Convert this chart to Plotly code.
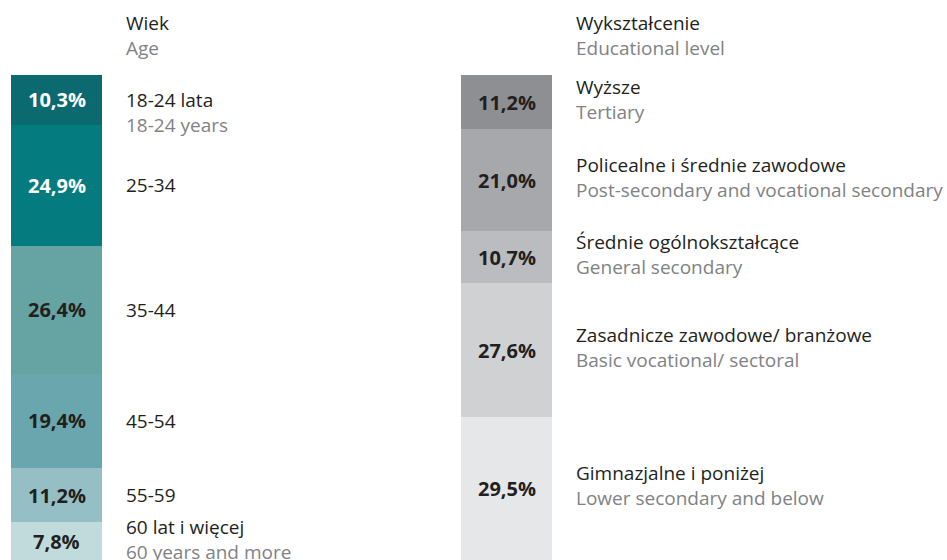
import plotly.graph_objects as go

# ---- data ----
age_pl = ["18-24 lata", "25-34", "35-44", "45-54", "55-59", "60 lat i więcej"]
age_en = ["18-24 years", "", "", "", "", "60 years and more"]
age_vals = [10.3, 24.9, 26.4, 19.4, 11.2, 7.8]
age_colors = ["#0b6a70", "#037b7f", "#66a4a3", "#6aa6ad", "#95bfc4", "#c1dbdd"]
age_txt_colors = ["#ffffff", "#ffffff", "#231f20", "#231f20", "#231f20", "#231f20"]

edu_pl = ["Wyższe", "Policealne i średnie zawodowe", "Średnie ogólnokształcące",
          "Zasadnicze zawodowe/ branżowe", "Gimnazjalne i poniżej"]
edu_en = ["Tertiary", "Post-secondary and vocational secondary", "General secondary",
          "Basic vocational/ sectoral", "Lower secondary and below"]
edu_vals = [11.2, 21.0, 10.7, 27.6, 29.5]
edu_colors = ["#8e8f93", "#a7a8ac", "#bbbcbf", "#d0d1d3", "#e6e7e8"]

FONT = "Open Sans"
DARK = "#231f20"
GRAY = "#808285"
FS = 19
FSB = 20

W, H = 947, 560
TOP = 75
BOT = 560

fig = go.Figure()
ann = []


def add_stack(xc, vals, colors):
    base = 0.0
    bases = []
    for v, c in zip(vals, colors):
        fig.add_trace(go.Bar(x=[xc], y=[v], base=[base], width=[91],
                             marker=dict(color=c, line=dict(width=0)),
                             showlegend=False, hoverinfo="skip"))
        bases.append(base)
        base += v
    return bases


def pct(v):
    return f"{v:.1f}".replace(".", ",") + "%"


def two_line(pl, en):
    return f"{pl}<br><span style='color:{GRAY}'>{en}</span>"


XA_BAR = 56.5
XA_LBL = 124
XE_BAR = 506.5
XE_LBL = 574

# Age column
ab = add_stack(XA_BAR, age_vals, age_colors)
for i, (v, b) in enumerate(zip(age_vals, ab)):
    mid = b + v / 2
    ann.append(dict(x=XA_BAR, y=mid, xref="x", yref="y", text=f"<b>{pct(v)}</b>",
                    showarrow=False, font=dict(family=FONT, size=FSB, color=age_txt_colors[i])))
for i, (v, b) in enumerate(zip(age_vals, ab)):
    mid = b + v / 2
    if age_en[i]:
        ys = -13 if i == 0 else 2
        ann.append(dict(x=XA_LBL, y=mid, xref="x", yref="y", text=two_line(age_pl[i], age_en[i]),
                        xanchor="left", align="left", yshift=ys, showarrow=False,
                        font=dict(family=FONT, size=FS, color=DARK)))
    else:
        ann.append(dict(x=XA_LBL, y=mid, xref="x", yref="y", text=age_pl[i], xanchor="left",
                        showarrow=False, font=dict(family=FONT, size=FS, color=DARK)))

# Education column
eb = add_stack(XE_BAR, edu_vals, edu_colors)
for i, (v, b) in enumerate(zip(edu_vals, eb)):
    mid = b + v / 2
    ann.append(dict(x=XE_BAR, y=mid, xref="x", yref="y", text=f"<b>{pct(v)}</b>",
                    showarrow=False, font=dict(family=FONT, size=FSB, color=DARK)))
    ann.append(dict(x=XE_LBL, y=mid, xref="x", yref="y", text=two_line(edu_pl[i], edu_en[i]),
                    xanchor="left", align="left", yshift=3, showarrow=False,
                    font=dict(family=FONT, size=FS, color=DARK)))


def py(px):
    # page pixel y -> paper coordinate
    return (BOT - px) / (BOT - TOP)


for xx, t1, t2 in [(XA_LBL, "Wiek", "Age"), (XE_LBL, "Wykształcenie", "Educational level")]:
    ann.append(dict(x=xx, y=py(35), xref="x", yref="paper", text=two_line(t1, t2),
                    xanchor="left", align="left", yanchor="middle", showarrow=False,
                    font=dict(family=FONT, size=FS, color=DARK)))

fig.update_layout(
    width=W, height=H,
    margin=dict(l=0, r=0, t=TOP, b=H - BOT, pad=0),
    paper_bgcolor="white", plot_bgcolor="white",
    barmode="overlay", bargap=0,
    xaxis=dict(range=[0, W], visible=False, fixedrange=True),
    yaxis=dict(range=[100, 0], visible=False, fixedrange=True),
    annotations=ann,
    font=dict(family=FONT),
)

fig.write_html("out.html", config={"displayModeBar": False},
               post_script="document.body.style.margin='0';document.body.style.overflow='hidden';")
